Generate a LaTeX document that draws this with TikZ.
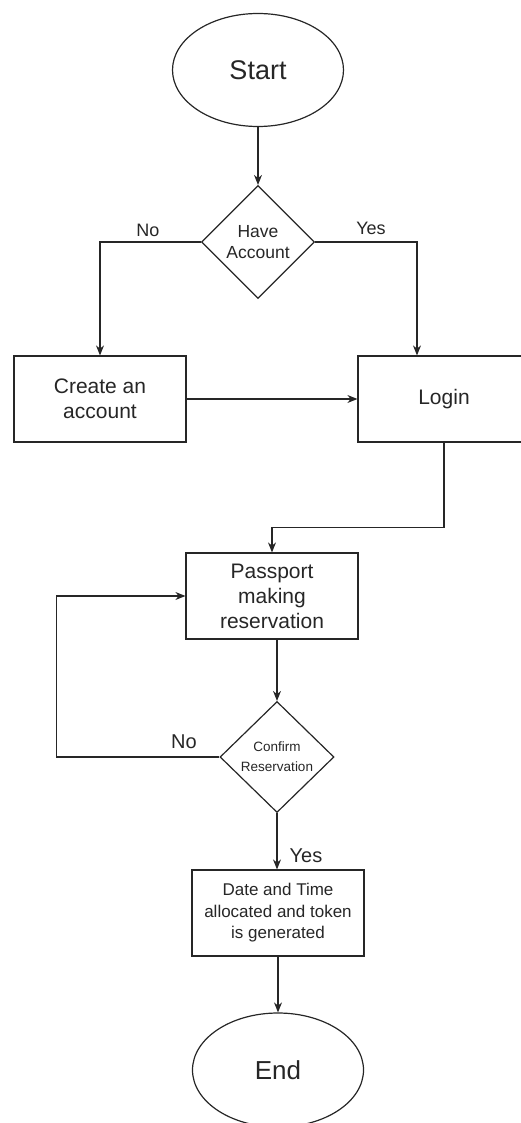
\documentclass[tikz,border=0pt]{standalone}
\usepackage{fontspec}
\setmainfont{Liberation Sans}
\usetikzlibrary{positioning,shapes.geometric,arrows.meta}
\newcommand{\fs}[2]{\fontsize{#1}{#2}\selectfont}

\begin{document}
\begin{tikzpicture}[x=1pt, y=-1pt, line width=1.2pt, draw=black!85, text=black!85,
	term/.style={draw, ellipse, minimum width=171pt, minimum height=113pt, inner sep=0pt},
	task/.style={draw, rectangle, minimum width=172pt, minimum height=86pt, inner sep=2pt, align=center},
	ask/.style={draw, diamond, minimum width=113pt, minimum height=113pt, inner sep=0pt, align=center},
	flow/.style={-{Stealth[length=10pt,width=8pt]}}]
	\useasboundingbox (0,0) rectangle (520,1123);
	
	%--- nodes of the flow, top to bottom ---
	\node[term, font=\fs{27}{32}] (start) at (258,70) {Start};
	\node[ask, font=\fs{17.5}{21}] (acct) at (258,242) {Have\\Account};
	\node[task, font=\fs{21}{25}] (create) at (100,399) {Create an\\account};
	\node[task, font=\fs{21}{25}] (login) at (444,399) {Login};
	\node[task, font=\fs{21}{25}] (pass) at (272,596) {Passport\\making\\reservation};
	\node[ask, minimum width=114pt, minimum height=111pt, font=\fs{13.5}{20}] (conf) at (277,757) {Confirm\\Reservation};
	\node[task, font=\fs{17}{21.5}] (date) at (278,913) {Date and Time\\allocated and token\\is generated};
	\node[term, minimum height=114pt, font=\fs{26}{31}] (end) at (278,1070) {End};
	
	% branch labels
	\node[font=\fs{18}{22}] (noA) at (148,230) {No};
	\node[font=\fs{18}{22}] (yesA) at (371,228) {Yes};
	\node[font=\fs{20}{24}] (noB) at (184,742) {No};
	\node[font=\fs{20}{24}] (yesB) at (306,856) {Yes};
	
	%--- connectors ---
	\draw[flow] (start.south) -- (acct.north);
	\draw[flow] (acct.west) -| (create.north);
	\draw[flow] (acct.east) -| ([xshift=-27pt]login.north);
	\draw[flow] (create.east) -- (login.west);
	\draw[flow] (login.south) -- ++(0,85) -| (pass.north);
	\draw[flow] (pass.south -| conf.north) -- (conf.north);
	\draw[flow] (conf.west) -- ++(-163,0) |- (pass.west); % back to reservation
	\draw[flow] (conf.south) -- (date.north -| conf.south);
	\draw[flow] (date.south) -- (end.north);
\end{tikzpicture}
\end{document}
